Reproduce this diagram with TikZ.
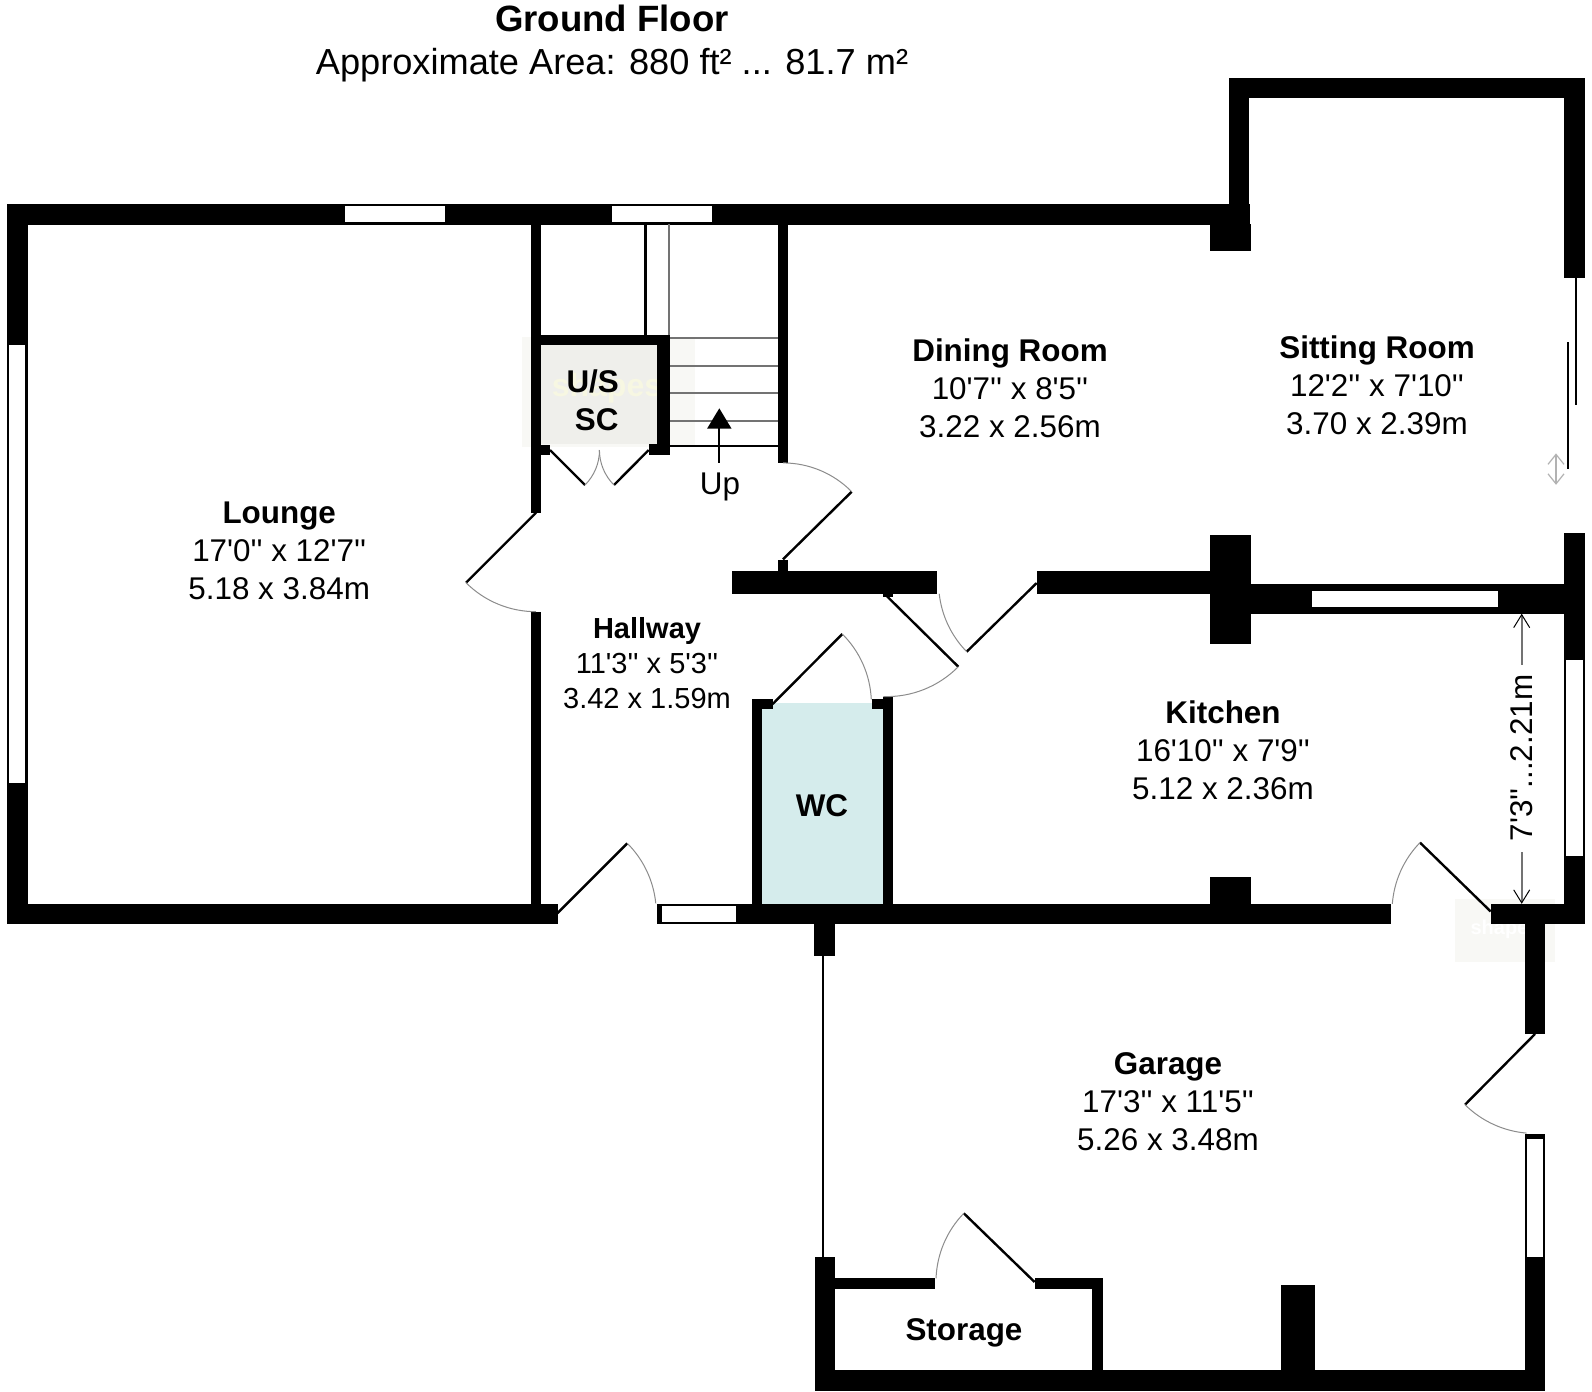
\documentclass[tikz,border=0pt]{standalone}
\usepackage{fontspec}
\usetikzlibrary{calc,arrows.meta}
\newfontfamily\labfont{Liberation Sans}
\definecolor{wcblue}{HTML}{D5ECEC}
\definecolor{markpale}{HTML}{F8F8F5}
\definecolor{markin}{HTML}{EFEFEB}
\definecolor{marktext}{HTML}{F7F7E2}
\tikzset{
  x=0.5pt,y=-0.5pt,
  wall/.style={fill=black},
  pane/.style={fill=white},
  leaf/.style={draw=black,line width=1.2pt},
  swing/.style={draw=black!45,line width=0.5pt},
  tread/.style={draw=black!55,line width=1pt},
  roomtext/.style={inner sep=0pt,align=center,font=\labfont\fontsize{15.7}{19}\selectfont},
  halltext/.style={inner sep=0pt,align=center,font=\labfont\fontsize{14.5}{17.5}\selectfont},
  boldtext/.style={inner sep=0pt,align=center,font=\labfont\bfseries\fontsize{15.7}{19}\selectfont},
  marktxt/.style={inner sep=0pt,text=marktext,font=\labfont\bfseries\fontsize{16}{18}\selectfont},
  marktxtsmall/.style={inner sep=0pt,text=white,font=\labfont\bfseries\fontsize{10}{12}\selectfont},
  dimline/.style={draw=black!55,line width=1pt},
  barb/.style={-{Straight Barb[length=6.5pt,width=8pt,black,line width=0.5pt]}},
  slidearrow/.style={draw=black!30,line width=0.6pt,{Straight Barb[length=5pt,width=8pt]}-{Straight Barb[length=5pt,width=8pt]}}
}
% hinge, tip, end of swing: the swing is an arc round the hinge
\newcommand{\doorat}[3]{%
  \draw[leaf] #1 -- #2;
  \path let \p1=($#2-#1$), \p2=($#3-#1$),
    \n1={atan2(\y1,\x1)}, \n2={atan2(\y2,\x2)},
    \n3={veclen(\x1,\y1)}, \n4={mod(\n2-\n1+540,360)-180} in
    [swing,draw] #2 arc[start angle=\n1, delta angle=\n4, radius=\n3];
}
\begin{document}
\begin{tikzpicture}
\useasboundingbox (0,0) rectangle (1592,1392);
\fill[white] (0,0) rectangle (1592,1392);
% watermarks
\fill[markpale] (522,337) rectangle (695,447);
\fill[markin] (541,345) rectangle (657,444);
\node[marktxt] (markone) at (607,388) {shapes};
\fill[markpale] (1455,899) rectangle (1555,962);
\node[marktxtsmall] (marktwo) at (1505,929) {shapes};
% WC floor
\fill[wcblue] (762,703) rectangle (883,904);
% outer walls: top
\fill[wall] (7,203.5) rectangle (1249.5,224.5);
\fill[wall] (7,203.5) rectangle (28,924);
\fill[wall] (7,904) rectangle (557.5,924);
% sitting room
\fill[wall] (1228.7,77.6) rectangle (1585,98.3);
\fill[wall] (1228.7,77.6) rectangle (1249.3,224.5);
\fill[wall] (1564,77.6) rectangle (1585,278);
\fill[wall] (1210,224) rectangle (1250.7,250.6);
% right side
\fill[wall] (1564,532.6) rectangle (1585,924);
\fill[wall] (1210,534.5) rectangle (1250.7,643.6);
\fill[wall] (1250.7,583.5) rectangle (1564,613.8);
% dining wall
\fill[wall] (731.7,570.5) rectangle (937.3,594);
\fill[wall] (1036.7,570.5) rectangle (1210,594);
\fill[wall] (777.7,560) rectangle (788,571);
\fill[wall] (882.7,594) rectangle (892.7,597);
% hall partitions
\fill[wall] (531,224) rectangle (541.3,512.7);
\fill[wall] (531,612.3) rectangle (541.3,904);
\fill[wall] (777.7,224) rectangle (788,462.7);
% understairs cupboard
\fill[wall] (531,334.7) rectangle (670,345.3);
\fill[wall] (657,334.7) rectangle (670,455);
\fill[wall] (648.7,444) rectangle (670,455);
\fill[wall] (541,444.7) rectangle (550,455);
% WC walls
\fill[wall] (751.7,699.3) rectangle (762,904);
\fill[wall] (882.7,696.7) rectangle (892.7,904);
\fill[wall] (751.7,699.3) rectangle (772.7,709.3);
\fill[wall] (871.7,699.3) rectangle (892.7,709.3);
% centre bottom wall
\fill[wall] (657,903.5) rectangle (1390.7,923.7);
\fill[wall] (1490.7,903.8) rectangle (1585,923.7);
\fill[wall] (1210,877) rectangle (1250.7,904);
\fill[wall] (814.3,923) rectangle (835,955.7);
% garage walls
\fill[wall] (1525,923) rectangle (1545.3,1034);
\fill[wall] (1525,1134) rectangle (1545.3,1390.7);
\fill[wall] (814.5,1257.3) rectangle (835,1390.7);
\fill[wall] (814.5,1370) rectangle (1545.3,1390.7);
\fill[wall] (835,1278.3) rectangle (934.8,1288.7);
\fill[wall] (1034.6,1278.3) rectangle (1102.5,1288.7);
\fill[wall] (1092.3,1278.3) rectangle (1102.5,1370);
\fill[wall] (1280.9,1285) rectangle (1314.8,1370);
\draw[black,line width=1pt] (823.3,955.7) -- (823.3,1257.3);
% windows
\fill[pane] (345,206) rectangle (445,222);
\fill[pane] (612,206) rectangle (712,221.7);
\fill[pane] (9.3,344.5) rectangle (25.3,783);
\fill[pane] (662.3,906) rectangle (736,921.7);
\fill[pane] (1312,591) rectangle (1498.3,607.3);
\fill[pane] (1566,659.7) rectangle (1582.7,856);
\fill[pane] (1527.3,1139) rectangle (1543.3,1257.3);
% stairs
\draw[black,line width=1.2pt] (645.3,224) -- (645.3,335);
\draw[tread] (668.7,224) -- (668.7,335);
\draw[tread] (670,338.3) -- (778,338.3);
\draw[tread] (670,365.7) -- (778,365.7);
\draw[tread] (670,393.3) -- (778,393.3);
\draw[tread] (670,421) -- (778,421);
\draw[black,line width=0.7pt] (670,446) -- (778,446);
\coordinate (upfoot) at (719.3,462.7);
\coordinate (uphead) at (719.3,408.3);
\draw[black,line width=1.1pt,-{Triangle[length=10.2pt,width=12pt]}] (upfoot) -- (uphead);
\node[roomtext] (uptext) at (720,487) {Up};
% doors
\doorat{(550,450)}{(585,485)}{(599.3,450)}
\doorat{(648.7,450)}{(614,485)}{(599.3,450)}
\doorat{(536,512.7)}{(466,582.7)}{(536,612.3)}
\doorat{(783,559.3)}{(851.7,491.7)}{(783,462.7)}
\doorat{(1036.7,583)}{(966.7,651.7)}{(937.3,594)}
\doorat{(886.7,596)}{(958.3,666.7)}{(883.3,696.7)}
\doorat{(772.7,704)}{(842.3,634)}{(871.7,699.3)}
\doorat{(557.3,913.3)}{(627.3,843.3)}{(657,903.3)}
\doorat{(1490.7,911.5)}{(1420,842.6)}{(1390.7,903.8)}
\doorat{(1535,1034)}{(1465,1104.7)}{(1526.7,1134)}
\doorat{(1034.6,1282)}{(963.8,1213.3)}{(934.8,1278.3)}
% sliding door
\draw[black,line width=1.1pt] (1575.7,278) -- (1575.7,405);
\draw[black,line width=1.1pt] (1567.7,342) -- (1567.7,468.7);
\coordinate (slidetop) at (1556,453.4);
\coordinate (slidebot) at (1556,484.8);
\draw[slidearrow] (slidetop) -- (slidebot);
% kitchen dimension
\coordinate (dimtop) at (1521.7,613.7);
\coordinate (dimtopend) at (1521.7,664.6);
\coordinate (dimbot) at (1521.7,903.8);
\coordinate (dimbotend) at (1521.7,852);
\draw[dimline,barb] (dimtopend) -- (dimtop);
\draw[dimline,barb] (dimbotend) -- (dimbot);
\node[roomtext,rotate=90] (dimtext) at (1522,758) {7'3''...2.21m};
% labels
\node[inner sep=0pt,font=\labfont\bfseries\fontsize{18.3}{20}\selectfont] (titlea) at (612,18.5) {Ground Floor};
\node[inner sep=0pt,font=\labfont\fontsize{18.1}{20}\selectfont] (titleb) at (612,65) {Approximate Area: 880 ft² ... 81.7 m²};
\node[roomtext] (lounge) at (279.2,551) {\textbf{Lounge}\\17'0'' x 12'7''\\5.18 x 3.84m};
\node[roomtext] (dining) at (1010,388) {\textbf{Dining Room}\\10'7'' x 8'5''\\3.22 x 2.56m};
\node[roomtext] (sitting) at (1377,385) {\textbf{Sitting Room}\\12'2'' x 7'10''\\3.70 x 2.39m};
\node[halltext] (hallway) at (647,663) {\textbf{Hallway}\\11'3'' x 5'3''\\3.42 x 1.59m};
\node[roomtext] (kitchen) at (1223,750) {\textbf{Kitchen}\\16'10'' x 7'9''\\5.12 x 2.36m};
\node[roomtext] (garage) at (1168,1102) {\textbf{Garage}\\17'3'' x 11'5''\\5.26 x 3.48m};
\node[boldtext] (storage) at (964,1333) {Storage};
\node[boldtext] (wc) at (822,806) {WC};
\node[boldtext] (usa) at (592.7,381) {U/S};
\node[boldtext] (usb) at (596.7,420) {SC};
\end{tikzpicture}
\end{document}
